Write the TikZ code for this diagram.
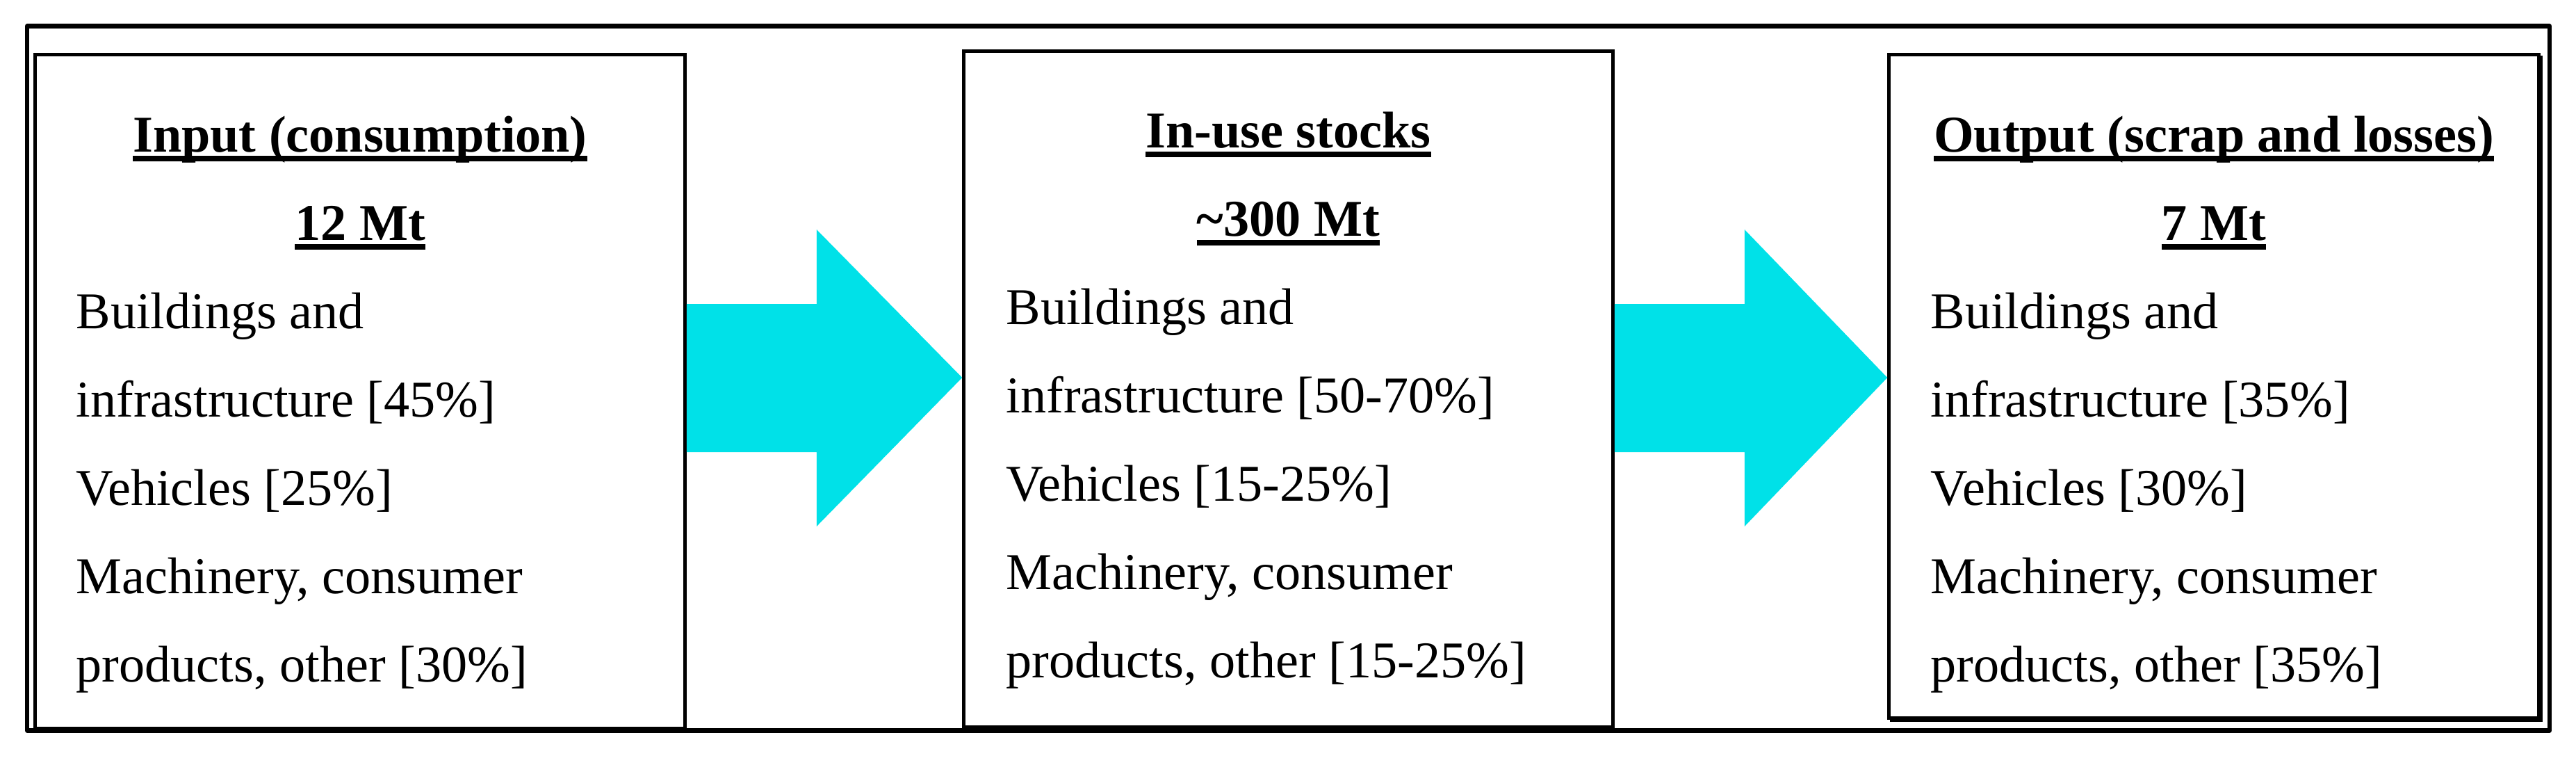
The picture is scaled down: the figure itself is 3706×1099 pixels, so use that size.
\documentclass[tikz,border=0pt]{standalone}
\usepackage{fontspec}
\setmainfont{Liberation Serif}
\usetikzlibrary{calc}
\definecolor{flowcyan}{RGB}{0,225,232}
\newsavebox\ulbox
\newcommand\hdul[1]{\sbox\ulbox{#1}\rlap{\rule[-4.1pt]{\wd\ulbox}{2.5pt}}\usebox\ulbox}
\begin{document}
\begin{tikzpicture}[x=0.01cm,y=-0.01cm,
  frame/.style={draw, line width=0.065cm, line join=round, inner sep=0, outer sep=0},
  box/.style={draw, line width=0.05cm, inner sep=0, minimum width=9.34cm},
  head/.style={anchor=base, inner sep=0, font=\fontsize{21.1}{25}\selectfont\bfseries},
  body/.style={anchor=base west, inner sep=0, font=\fontsize{21.1}{25}\selectfont},
  flow/.style={fill=flowcyan}]
\useasboundingbox (0,0) rectangle (3706,1099);
% outer frame
\node[frame, minimum width=36.27cm, minimum height=10.12cm] (outer) at (1853.5,544) {};
% boxes
\node[box, minimum height=9.68cm] (a) at (518,563) {};
\node[box, minimum height=9.71cm, minimum width=9.33cm] (b) at (1853.5,559.5) {};
\node[box, minimum height=9.53cm] (c) at (3185,555.5) {};
% shadow of right box
\draw[line width=0.04cm] ($(c.north east)+(1,4)$) -- ($(c.south east)+(1,1)$) -- ($(c.south west)+(4,1)$);
% arrows
\coordinate (s1) at (a.east |- 0,543);
\coordinate (t1) at (b.west |- 0,543);
\coordinate (s2) at (b.east |- 0,543);
\coordinate (t2) at (c.west |- 0,543);
\fill[flow] ($(s1)+(0,-106)$) -- ($(s1)+(187,-106)$) -- ($(s1)+(187,-213)$) -- (t1)
  -- ($(s1)+(187,214)$) -- ($(s1)+(187,107)$) -- ($(s1)+(0,107)$) -- cycle;
\fill[flow] ($(s2)+(0,-106)$) -- ($(s2)+(187,-106)$) -- ($(s2)+(187,-213)$) -- (t2)
  -- ($(s2)+(187,214)$) -- ($(s2)+(187,107)$) -- ($(s2)+(0,107)$) -- cycle;
% left box text
\node[head] (ah1) at (518,218) {\hdul{Input (consumption)}};
\node[head] (ah2) at (518,345) {\hdul{12 Mt}};
\node[body] (ab1) at (109,472) {Buildings and};
\node[body] (ab2) at (109,599) {infrastructure [45\%]};
\node[body] (ab3) at (109,726) {Vehicles [25\%]};
\node[body] (ab4) at (109,853) {Machinery, consumer};
\node[body] (ab5) at (109,980) {products, other [30\%]};
% middle box text
\node[head] (bh1) at (1853.5,212) {\hdul{In-use stocks}};
\node[head] (bh2) at (1853.5,339) {\hdul{\textasciitilde300 Mt}};
\node[body] (bb1) at (1447,466) {Buildings and};
\node[body] (bb2) at (1447,593) {infrastructure [50-70\%]};
\node[body] (bb3) at (1447,720) {Vehicles [15-25\%]};
\node[body] (bb4) at (1447,847) {Machinery, consumer};
\node[body] (bb5) at (1447,974) {products, other [15-25\%]};
% right box text
\node[head] (ch1) at (3185,218) {\hdul{Output (scrap and losses)}};
\node[head] (ch2) at (3185,345) {\hdul{7 Mt}};
\node[body] (cb1) at (2777,472) {Buildings and};
\node[body] (cb2) at (2777,599) {infrastructure [35\%]};
\node[body] (cb3) at (2777,726) {Vehicles [30\%]};
\node[body] (cb4) at (2777,853) {Machinery, consumer};
\node[body] (cb5) at (2777,980) {products, other [35\%]};
\end{tikzpicture}
\end{document}
